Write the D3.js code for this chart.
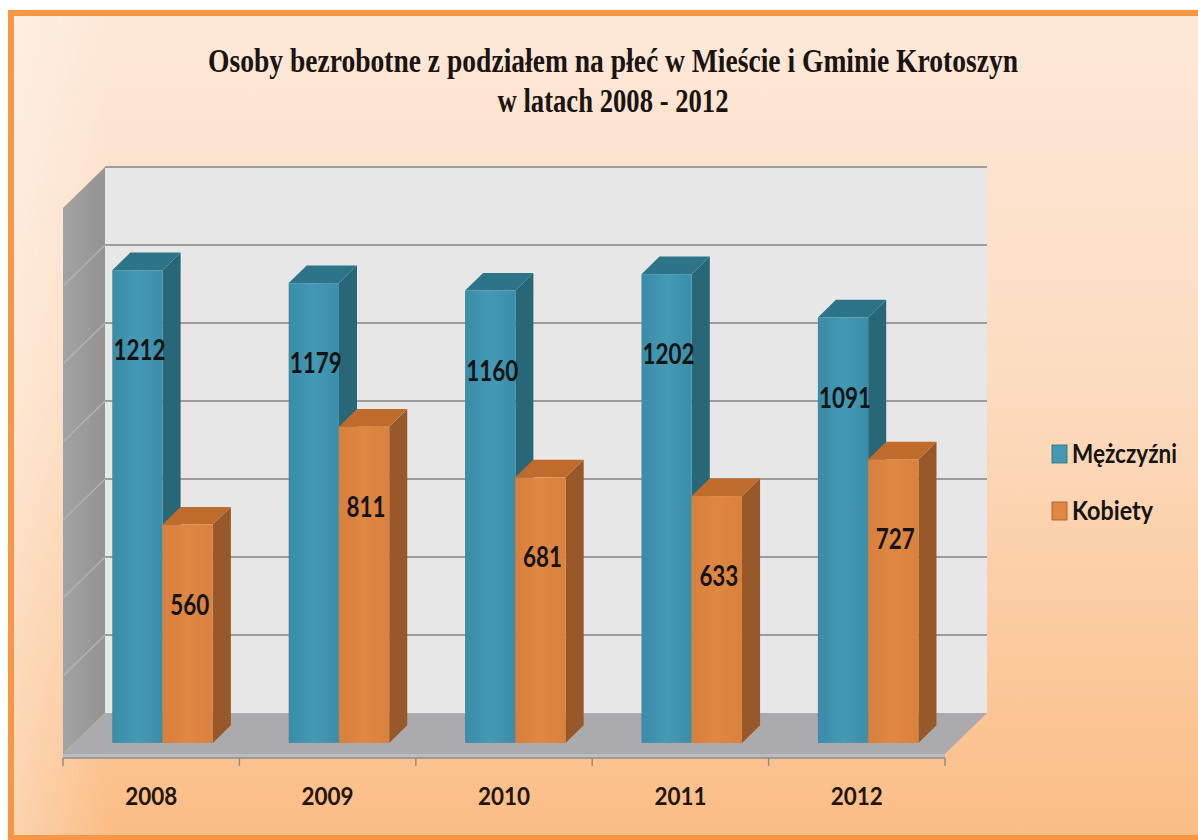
<!DOCTYPE html>
<html>
<head>
<meta charset="utf-8">
<script src="https://cdn.jsdelivr.net/npm/d3@7"></script>
<style>
  html, body { margin: 0; padding: 0; background: #fff; }
  svg { display: block; }
</style>
</head>
<body>
<div id="chart"></div>
<script>
// data
const years = ['2008', '2009', '2010', '2011', '2012'];
const men = [1212, 1179, 1160, 1202, 1091];
const women = [560, 811, 681, 633, 727];
const seriesNames = ['Mężczyźni', 'Kobiety'];
const valueTicks = [0, 200, 400, 600, 800, 1000, 1200, 1400];
const titleLines = ['Osoby bezrobotne z podziałem na płeć w Mieście i Gminie Krotoszyn', 'w latach 2008 - 2012'];

const W = 1198, H = 840;

// 3d layout: floor front edge, depth vector, bar depth
const floorY = 754, left = 63, right = 945;
const depth = { dx: 42, dy: -41 };
const barD0 = 0.27, barD1 = 0.70;

const colors = {
  men: { front: ['#3a8ca7', '#4499b4', '#3b8ea9'], top: '#2e7489', side: '#276778' },
  women: { front: ['#d8803c', '#e08841', '#d9813d'], top: '#bf6b2c', side: '#985829' }
};

const svg = d3.select('#chart').append('svg')
  .attr('width', W)
  .attr('height', H);

const defs = svg.append('defs');

const bg = defs.append('linearGradient').attr('id', 'bg')
  .attr('x1', 0).attr('y1', 0).attr('x2', 0).attr('y2', 1);
bg.append('stop').attr('offset', 0).attr('stop-color', '#fde8d8');
bg.append('stop').attr('offset', 0.45).attr('stop-color', '#fcdcc0');
bg.append('stop').attr('offset', 1).attr('stop-color', '#fbbd85');

const bgSide = defs.append('linearGradient').attr('id', 'bgSide')
  .attr('x1', 0).attr('y1', 0).attr('x2', 1).attr('y2', 0);
bgSide.append('stop').attr('offset', 0).attr('stop-color', '#fff').attr('stop-opacity', 0.35);
bgSide.append('stop').attr('offset', 0.08).attr('stop-color', '#fff').attr('stop-opacity', 0);

const sideWall = defs.append('linearGradient').attr('id', 'sideWall')
  .attr('x1', 0).attr('y1', 0).attr('x2', 1).attr('y2', 0);
sideWall.append('stop').attr('offset', 0).attr('stop-color', '#a3a3a3');
sideWall.append('stop').attr('offset', 1).attr('stop-color', '#939393');

['men', 'women'].forEach(k => {
  const g = defs.append('linearGradient').attr('id', 'front-' + k)
    .attr('x1', 0).attr('y1', 0).attr('x2', 1).attr('y2', 0);
  colors[k].front.forEach((c, i) => {
    g.append('stop').attr('offset', i / 2).attr('stop-color', c);
  });
});

// background + frame
svg.append('rect').attr('x', 11).attr('y', 13).attr('width', W + 20).attr('height', 825)
  .attr('fill', 'url(#bg)');
svg.append('rect').attr('x', 11).attr('y', 13).attr('width', W + 20).attr('height', 825)
  .attr('fill', 'url(#bgSide)');
svg.append('rect').attr('x', 11).attr('y', 13).attr('width', W + 20).attr('height', 825)
  .attr('fill', 'none')
  .attr('stroke', '#f79646')
  .attr('stroke-width', 6);

// squeeze text to a measured width
function fit(sel, width) {
  sel.attr('textLength', width).attr('lengthAdjust', 'spacingAndGlyphs');
}

// title
const title = svg.append('g').attr('font-family', '"Liberation Serif", "Times New Roman", serif')
  .attr('font-weight', 'bold')
  .attr('font-size', 33)
  .attr('fill', '#1c1410')
  .attr('text-anchor', 'middle');
title.append('text').attr('x', 613).attr('y', 72).text(titleLines[0]).call(fit, 810);
title.append('text').attr('x', 613).attr('y', 112).text(titleLines[1]).call(fit, 231);

// scales
const x = d3.scaleBand()
  .domain(years)
  .range([left, right])
  .paddingInner(0.43)
  .paddingOuter(0.215);

const xs = d3.scaleBand()
  .domain(seriesNames)
  .range([0, x.bandwidth()]);

const y = d3.scaleLinear()
  .domain([0, d3.max(valueTicks)])
  .range([0, 546]);

// oblique projection: px at front, value, depth fraction
const P = (px, v, d) => [px + d * depth.dx, floorY + d * depth.dy - y(v)];
const pts = arr => arr.map(p => p.join(',')).join(' ');

const plot = svg.append('g');

// back wall
const bl = P(left, y.domain()[1], 1), br = P(right, 0, 1);
plot.append('rect')
  .attr('x', bl[0]).attr('y', bl[1])
  .attr('width', br[0] - bl[0]).attr('height', br[1] - bl[1])
  .attr('fill', '#e7e7e7');

// side wall
plot.append('polygon')
  .attr('points', pts([P(left, 1400, 0), P(left, 1400, 1), P(left, 0, 1), P(left, 0, 0)]))
  .attr('fill', 'url(#sideWall)');

// floor
plot.append('polygon')
  .attr('points', pts([P(left, 0, 0), P(left, 0, 1), P(right, 0, 1), P(right, 0, 0)]))
  .attr('fill', '#ababae');
plot.append('polygon')
  .attr('points', pts([P(left, 0, 0), P(right, 0, 0), [right, floorY + 4], [left, floorY + 4]]))
  .attr('fill', '#bdbdc0');

// gridlines
plot.append('g').selectAll('line.grid')
  .data(valueTicks.filter(v => v > 0))
  .join('line')
  .attr('x1', d => P(left, d, 1)[0]).attr('y1', d => P(left, d, 1)[1])
  .attr('x2', d => P(right, d, 1)[0]).attr('y2', d => P(right, d, 1)[1])
  .attr('stroke', '#9c9c9c')
  .attr('stroke-width', 2);

plot.append('g').selectAll('line')
  .data(valueTicks.filter(v => v > 0 && v < 1400))
  .join('line')
  .attr('x1', d => P(left, d, 0)[0]).attr('y1', d => P(left, d, 0)[1])
  .attr('x2', d => P(left, d, 1)[0]).attr('y2', d => P(left, d, 1)[1])
  .attr('stroke', '#b4b4b4')
  .attr('stroke-width', 1.2);

// category axis
const axisY = floorY + 4;
plot.append('line')
  .attr('x1', left).attr('x2', right).attr('y1', axisY).attr('y2', axisY)
  .attr('stroke', '#8e8e8e').attr('stroke-width', 1.5);
const step = x.step();
plot.append('g').selectAll('line')
  .data(d3.range(years.length + 1))
  .join('line')
  .attr('x1', i => left + i * step).attr('x2', i => left + i * step)
  .attr('y1', axisY).attr('y2', axisY + 8)
  .attr('stroke', '#8e8e8e').attr('stroke-width', 1.5);

plot.append('g').selectAll('text')
  .data(years)
  .join('text')
  .attr('x', d => x(d) + x.bandwidth() / 2)
  .attr('y', 805)
  .attr('text-anchor', 'middle')
  .attr('font-family', 'Lato, "Open Sans", sans-serif')
  .attr('font-weight', 'bold')
  .attr('font-size', 25)
  .attr('fill', '#22150c')
  .text(d => d)
  .call(fit, 52);

// bars
const bars = [];
years.forEach((yr, i) => {
  bars.push({ year: yr, series: seriesNames[0], key: 'men', value: men[i] });
  bars.push({ year: yr, series: seriesNames[1], key: 'women', value: women[i] });
});

const barG = plot.append('g').selectAll('g')
  .data(bars)
  .join('g');

const x0 = d => x(d.year) + xs(d.series);
const x1 = d => x0(d) + xs.bandwidth();

barG.append('polygon')
  .attr('points', d => pts([P(x1(d), 0, barD0), P(x1(d), 0, barD1), P(x1(d), d.value, barD1), P(x1(d), d.value, barD0)]))
  .attr('fill', d => colors[d.key].side);

barG.append('polygon')
  .attr('points', d => pts([P(x0(d), d.value, barD0), P(x0(d), d.value, barD1), P(x1(d), d.value, barD1), P(x1(d), d.value, barD0)]))
  .attr('fill', d => colors[d.key].top);

barG.append('rect')
  .attr('x', d => P(x0(d), 0, barD0)[0])
  .attr('y', d => P(x0(d), d.value, barD0)[1])
  .attr('width', xs.bandwidth())
  .attr('height', d => y(d.value))
  .attr('fill', d => 'url(#front-' + d.key + ')');

// value labels
plot.append('g').selectAll('text')
  .data(bars)
  .join('text')
  .attr('x', d => P(x0(d), 0, barD0)[0] + xs.bandwidth() / 2 + 2)
  .attr('y', d => P(x0(d), d.value, barD0)[1] + 80)
  .attr('dy', '0.36em')
  .attr('text-anchor', 'middle')
  .attr('font-family', 'Lato, "Open Sans", sans-serif')
  .attr('font-weight', 'bold')
  .attr('font-size', 28)
  .attr('fill', '#141414')
  .text(d => d.value)
  .each(function (d) {
    d3.select(this).call(fit, String(d.value).length * 13);
  });

// legend
const legend = svg.append('g').attr('transform', 'translate(1052, 445)');
seriesNames.forEach((name, i) => {
  const key = i === 0 ? 'men' : 'women';
  const g = legend.append('g').attr('transform', `translate(0, ${i * 57})`);
  g.append('rect')
    .attr('width', 15).attr('height', 18)
    .attr('fill', colors[key].front[1])
    .attr('stroke', colors[key].side)
    .attr('stroke-width', 0.8);
  g.append('text')
    .attr('x', 20)
    .attr('y', 18)
    .attr('font-family', 'Lato, "Open Sans", sans-serif')
    .attr('font-weight', 'bold')
    .attr('font-size', 27)
    .attr('fill', '#141414')
    .text(name)
    .call(fit, i === 0 ? 105 : 81);
});
</script>
</body>
</html>
